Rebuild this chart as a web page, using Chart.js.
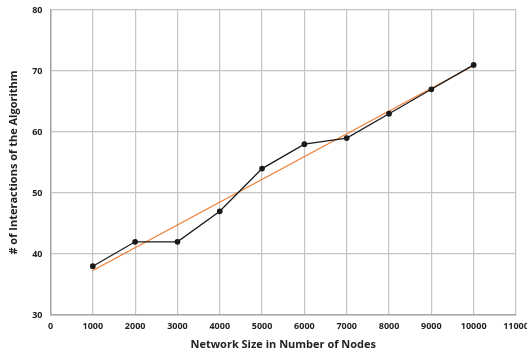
<!DOCTYPE html>
<html>
<head>
<meta charset="utf-8">
<script src="https://cdn.jsdelivr.net/npm/chart.js@4.4.0/dist/chart.umd.min.js"></script>
<style>
  html, body { margin: 0; padding: 0; background: #fff; }
  #wrap { width: 527px; height: 351px; }
</style>
</head>
<body>
<div id="wrap"><canvas id="chart" width="527" height="351"></canvas></div>
<script>
// data
const nodes = [1000, 2000, 3000, 4000, 5000, 6000, 7000, 8000, 9000, 10000];
const iterations = [38, 42, 42, 47, 54, 58, 59, 63, 67, 71];
// linear trend line end points
const trendX = [1000, 10000];
const trendY = [37.3, 70.9];

const FONT = '"Open Sans", "Liberation Sans", sans-serif';

const chart = new Chart(document.getElementById('chart').getContext('2d'), {
  type: 'scatter',
  data: {
    datasets: [
      {
        label: 'Iterations',
        data: nodes.map((x, i) => ({ x: x, y: iterations[i] })),
        showLine: true,
        borderColor: '#1a1a1a',
        backgroundColor: '#1a1a1a',
        borderWidth: 1.3,
        pointStyle: 'circle',
        pointRadius: 2.2,
        pointHoverRadius: 2.2,
        order: 1
      },
      {
        label: 'Trend',
        data: trendX.map((x, i) => ({ x: x, y: trendY[i] })),
        showLine: true,
        borderColor: '#ED7D31',
        borderWidth: 1.2,
        pointRadius: 0,
        order: 2
      }
    ]
  },
  options: {
    responsive: false,
    animation: false,
    devicePixelRatio: 1,
    layout: { padding: { top: 10, right: 0, bottom: 0, left: 7 } },
    plugins: {
      legend: { display: false },
      tooltip: { enabled: false }
    },
    scales: {
      x: {
        type: 'linear',
        min: 0,
        max: 11000,
        afterFit: (s) => { s.paddingRight = 11; },
        ticks: {
          stepSize: 1000,
          callback: (v) => String(v),
          color: '#222',
          font: { family: FONT, size: 9, weight: 'bold' },
          padding: 6
        },
        grid: { color: '#c4c4c4', lineWidth: 1.2, drawTicks: false },
        border: { color: '#a6a6a6', width: 1.5 },
        title: {
          display: true,
          text: 'Network Size in Number of Nodes',
          color: '#222',
          font: { family: FONT, size: 11, weight: 'bold' },
          padding: { top: 0, bottom: 0 }
        }
      },
      y: {
        min: 30,
        max: 80,
        afterFit: (s) => { s.paddingTop = 0; },
        ticks: {
          stepSize: 10,
          color: '#222',
          font: { family: FONT, size: 9, weight: 'bold' },
          padding: 8
        },
        grid: { color: '#c4c4c4', lineWidth: 1.2, drawTicks: false },
        border: { color: '#a6a6a6', width: 1.5 },
        title: {
          display: true,
          text: '# of Interactions of the Algorithm',
          color: '#222',
          font: { family: FONT, size: 11, weight: 'bold' },
          padding: { top: 0, bottom: 4 }
        }
      }
    }
  }
});
</script>
</body>
</html>
